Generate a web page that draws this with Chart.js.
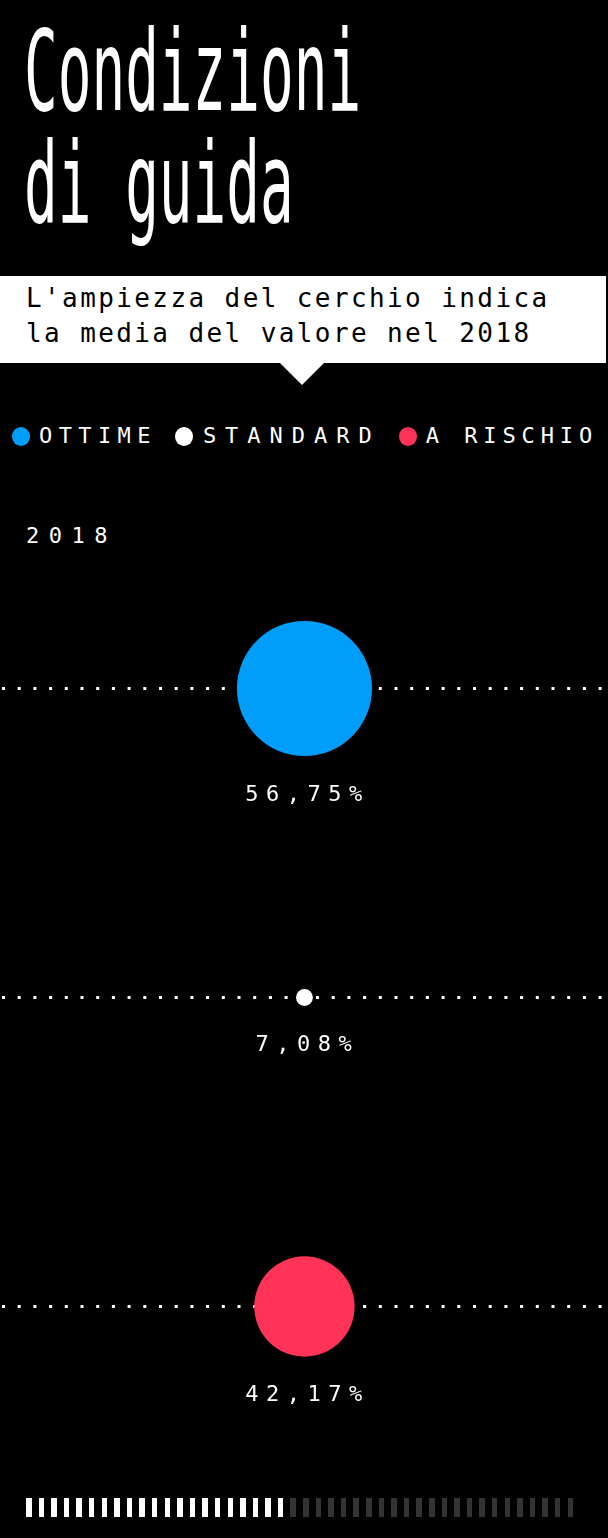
<!DOCTYPE html>
<html>
<head>
<meta charset="utf-8">
<script src="https://cdn.jsdelivr.net/npm/chart.js@4/dist/chart.umd.min.js"></script>
<style>
  html, body { margin: 0; padding: 0; background: #000; }
  body { width: 608px; height: 1538px; position: relative; overflow: hidden; font-family: 'DejaVu Sans Mono', monospace; color: #fff; }
  #title {
    position: absolute; left: 24px; top: 15px;
    font-size: 112px; line-height: 112px; white-space: nowrap;
    transform: scaleX(0.5); transform-origin: left top;
  }
  #note {
    position: absolute; left: 0; top: 276px; width: 606px; height: 87px;
    background: #fff; color: #000;
  }
  #note .txt {
    position: absolute; left: 26px; top: 5px;
    font-size: 26px; line-height: 35px; letter-spacing: 2.4px; white-space: nowrap;
  }
  #note .arrow {
    position: absolute; left: 280px; top: 87px; width: 0; height: 0;
    border-left: 22px solid transparent; border-right: 22px solid transparent;
    border-top: 22px solid #fff;
  }
  #legend {
    position: absolute; left: 12px; top: 426px; display: flex; align-items: center; gap: 18px;
  }
  #legend .item { display: flex; align-items: center; }
  #legend .dot { width: 18px; height: 19px; border-radius: 50%; margin-right: 9px; }
  #legend .lbl { font-size: 22px; letter-spacing: 6.4px; line-height: 20px; }
  #legend .item:nth-child(2) .dot { margin-right: 10px; }
  #legend .item:nth-child(2) .lbl { letter-spacing: 9px; }
  #legend .item:nth-child(3) .lbl { letter-spacing: 5.9px; }
  #year { position: absolute; left: 26px; top: 525px; font-size: 22px; letter-spacing: 9.5px; line-height: 22px; }
  #chartWrap { position: absolute; left: 0; top: 534px; width: 608px; height: 927px; }
  #progress { position: absolute; left: 26px; top: 1498px; display: flex; gap: 7.1px; }
  #progress div { width: 5.5px; height: 19px; background: #333; }
  #progress div.on { background: #fff; }
</style>
</head>
<body>
<div id="title">Condizioni<br>di guida</div>
<div id="note">
  <div class="txt">L'ampiezza del cerchio indica<br>la media del valore nel 2018</div>
  <div class="arrow"></div>
</div>
<div id="legend"></div>
<div id="year"></div>
<div id="chartWrap"><canvas id="chart" width="608" height="927"></canvas></div>
<div id="progress"></div>

<script>
// Data
const categories = ['OTTIME', 'STANDARD', 'A RISCHIO'];
const values = [56.75, 7.08, 42.17];
const rowPositions = [3, 2, 1];
const colors = ['#009ef8', '#ffffff', '#ff3358'];
const yearLabel = '2018';

// bubble radius in px per percentage point
const radiusScale = 1.19;

// decorative progress strip at the bottom
const progressTotal = 44;
const progressDone = 21;

// Legend
const legendDiv = document.getElementById('legend');
categories.forEach((cat, i) => {
  const item = document.createElement('div');
  item.className = 'item';
  item.innerHTML = `<span class="dot" style="background:${colors[i]}"></span><span class="lbl">${cat}</span>`;
  legendDiv.appendChild(item);
});
document.getElementById('year').textContent = yearLabel;

const progressDiv = document.getElementById('progress');
for (let i = 0; i < progressTotal; i++) {
  const d = document.createElement('div');
  if (i < progressDone) d.className = 'on';
  progressDiv.appendChild(d);
}

function formatPct(v) {
  return v.toFixed(2).replace('.', ',') + '%';
}

// don't let big bubbles shrink the chart area, the dotted lines go edge to edge
Chart.BubbleController.prototype.getMaxOverflow = function() { return false; };

// draws the percentage under each bubble
const valueLabels = {
  id: 'valueLabels',
  afterDatasetsDraw(chart) {
    const ctx = chart.ctx;
    const meta = chart.getDatasetMeta(0);
    ctx.save();
    ctx.font = '22px "DejaVu Sans Mono"';
    ctx.fillStyle = '#fff';
    ctx.textAlign = 'center';
    ctx.textBaseline = 'middle';
    ctx.letterSpacing = '7.5px';
    meta.data.forEach((pt, i) => {
      const r = pt.options.radius;
      ctx.fillText(formatPct(values[i]), pt.x + 3, pt.y + r + 39);
    });
    ctx.restore();
  }
};

new Chart(document.getElementById('chart'), {
  type: 'bubble',
  data: {
    datasets: [{
      data: values.map((v, i) => ({ x: 0, y: rowPositions[i], r: v * radiusScale })),
      backgroundColor: colors,
      borderWidth: 0,
      hoverRadius: 0,
      hoverBorderWidth: 0,
      clip: false
    }]
  },
  options: {
    responsive: false,
    animation: false,
    devicePixelRatio: 1,
    layout: { padding: 0 },
    events: [],
    plugins: {
      legend: { display: false },
      tooltip: { enabled: false }
    },
    scales: {
      x: { display: false, min: -1.003, max: 1 },
      y: {
        min: 0.5,
        max: 3.5,
        afterBuildTicks: axis => { axis.ticks = rowPositions.map(v => ({ value: v })); },
        ticks: { display: false },
        grid: { color: '#ffffff', lineWidth: 3, drawTicks: false },
        border: { display: false, dash: [3, 12.7], dashOffset: -2 }
      }
    }
  },
  plugins: [valueLabels]
});
</script>
</body>
</html>
